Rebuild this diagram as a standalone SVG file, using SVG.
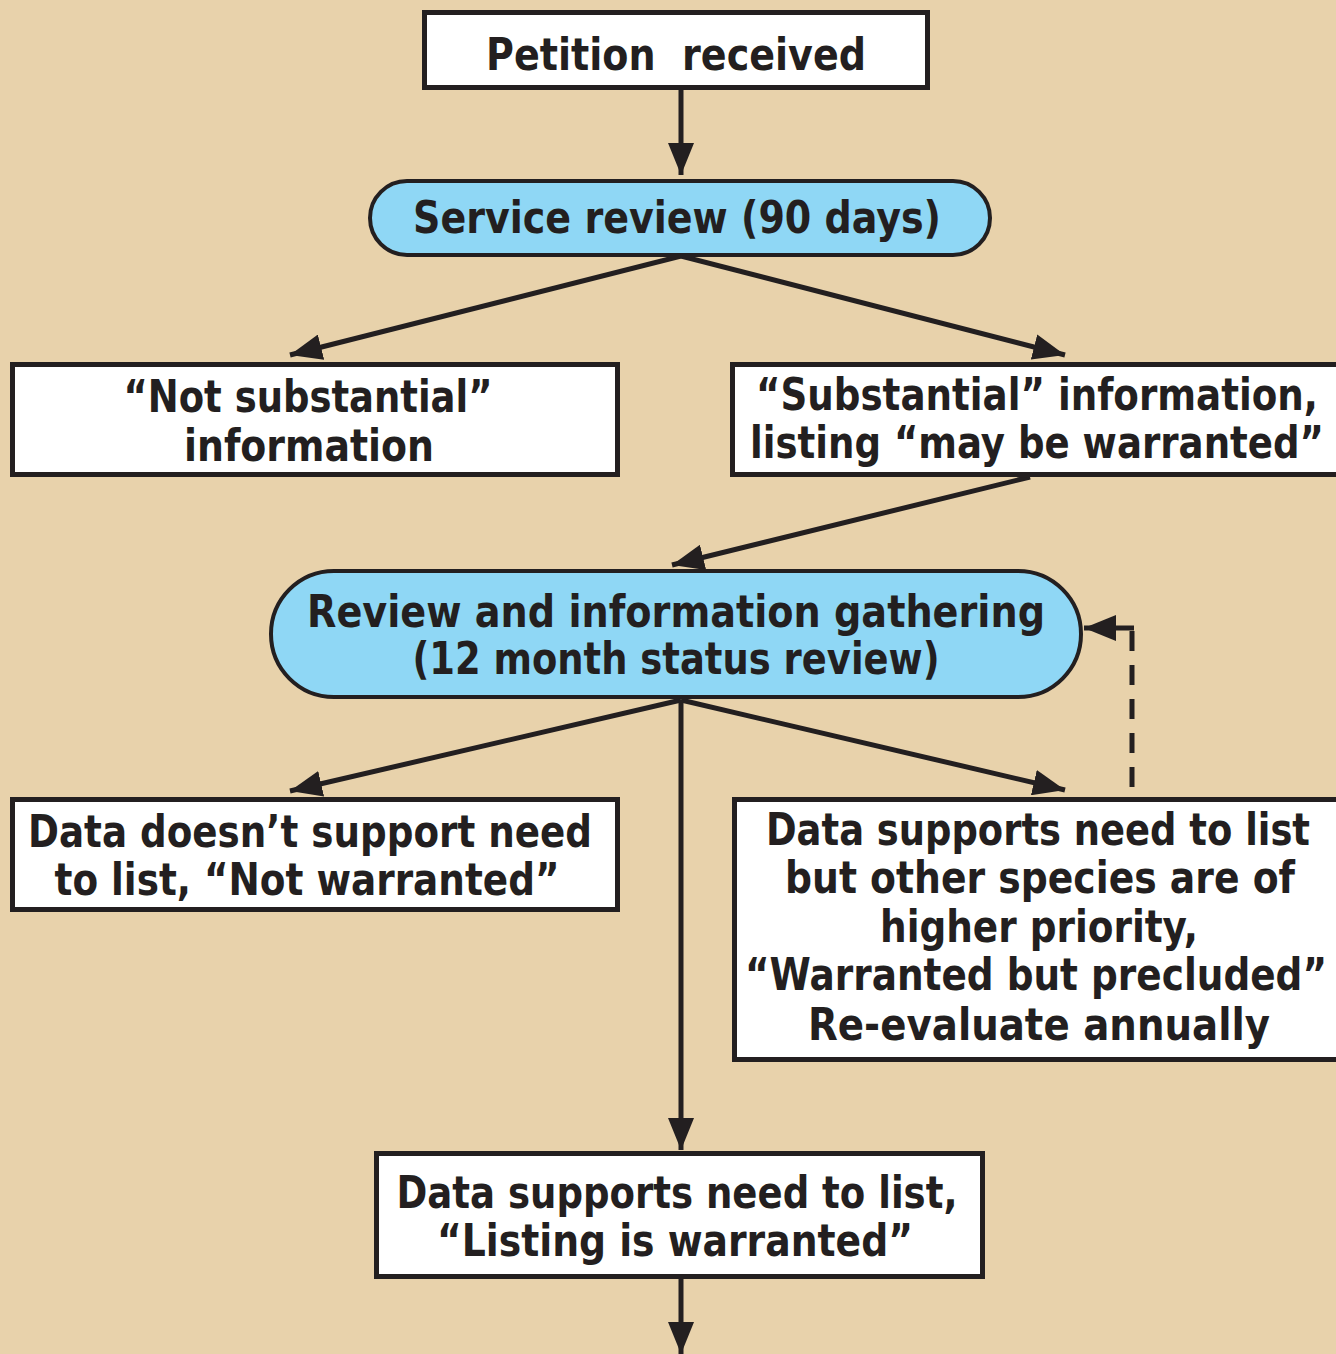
<svg xmlns="http://www.w3.org/2000/svg" width="1336" height="1354" viewBox="0 0 1336 1354">
<style>
.box{fill:#fff;stroke:#231f20;stroke-width:5}
.pill{fill:#8fd7f5;stroke:#231f20;stroke-width:4}
.t{font-family:"Liberation Sans Narrow","DejaVu Sans Condensed","Liberation Sans",sans-serif;font-weight:bold;font-size:44px;fill:#231f20;text-anchor:middle}
.c{stroke:#231f20;stroke-width:5;fill:none}
.d{stroke:#231f20;stroke-width:5;fill:none;stroke-dasharray:20 14}
</style>
<defs>
<marker id="ah" markerUnits="userSpaceOnUse" markerWidth="34" markerHeight="26" refX="32" refY="13" orient="auto">
<path d="M0,0 L32,13 L0,26 Z" fill="#231f20"/>
</marker>
</defs>
<rect width="1336" height="1354" fill="#e8d2ab"/>
<g id="connectors">
<line class="c" x1="681" y1="88" x2="681" y2="175" marker-end="url(#ah)"/>
<line class="c" x1="681" y1="256" x2="290" y2="355" marker-end="url(#ah)"/>
<line class="c" x1="681" y1="256" x2="1065" y2="355" marker-end="url(#ah)"/>
<line class="c" x1="1030" y1="477" x2="672" y2="565" marker-end="url(#ah)"/>
<line class="c" x1="681" y1="700" x2="290" y2="791" marker-end="url(#ah)"/>
<line class="c" x1="681" y1="700" x2="1065" y2="790" marker-end="url(#ah)"/>
<line class="c" x1="681" y1="700" x2="681" y2="1150" marker-end="url(#ah)"/>
<line class="c" x1="681" y1="1278" x2="681" y2="1354" marker-end="url(#ah)"/>
<path class="d" d="M1132,787 L1132,630"/>
<line class="c" x1="1134" y1="628" x2="1084" y2="628" marker-end="url(#ah)"/>
</g>
<g id="petition">
<rect class="box" x="424.5" y="12.5" width="503" height="75"/>
<text class="t" x="676" y="70" textLength="380" lengthAdjust="spacingAndGlyphs" xml:space="preserve">Petition  received</text>
</g>
<g id="service">
<rect class="pill" x="370" y="181" width="620" height="74" rx="37"/>
<text class="t" x="677" y="233" textLength="528" lengthAdjust="spacingAndGlyphs">Service review (90 days)</text>
</g>
<g id="notsub">
<rect class="box" x="12.5" y="364.5" width="605" height="110"/>
<text class="t" x="308" y="412" textLength="369" lengthAdjust="spacingAndGlyphs">“Not substantial”</text>
<text class="t" x="309" y="461" textLength="250" lengthAdjust="spacingAndGlyphs">information</text>
</g>
<g id="sub">
<rect class="box" x="732.5" y="364.5" width="610" height="110"/>
<text class="t" x="1037" y="410" textLength="562" lengthAdjust="spacingAndGlyphs">“Substantial” information,</text>
<text class="t" x="1037" y="458" textLength="574" lengthAdjust="spacingAndGlyphs">listing “may be warranted”</text>
</g>
<g id="review">
<rect class="pill" x="271" y="571" width="810" height="126" rx="63"/>
<text class="t" x="676" y="627" textLength="738" lengthAdjust="spacingAndGlyphs">Review and information gathering</text>
<text class="t" x="676" y="674" textLength="527" lengthAdjust="spacingAndGlyphs">(12 month status review)</text>
</g>
<g id="notwarranted">
<rect class="box" x="12.5" y="799.5" width="605" height="110"/>
<text class="t" x="310" y="847" textLength="564" lengthAdjust="spacingAndGlyphs">Data doesn’t support need</text>
<text class="t" x="307" y="895" textLength="505" lengthAdjust="spacingAndGlyphs">to list, “Not warranted”</text>
</g>
<g id="precluded">
<rect class="box" x="734.5" y="799.5" width="610" height="260"/>
<text class="t" x="1038" y="845" textLength="544" lengthAdjust="spacingAndGlyphs">Data supports need to list</text>
<text class="t" x="1040" y="893" textLength="510" lengthAdjust="spacingAndGlyphs">but other species are of</text>
<text class="t" x="1039" y="942" textLength="318" lengthAdjust="spacingAndGlyphs">higher priority,</text>
<text class="t" x="1036" y="990" textLength="582" lengthAdjust="spacingAndGlyphs">“Warranted but precluded”</text>
<text class="t" x="1039" y="1040" textLength="462" lengthAdjust="spacingAndGlyphs">Re-evaluate annually</text>
</g>
<g id="warranted">
<rect class="box" x="376.5" y="1153.5" width="606" height="123"/>
<text class="t" x="677" y="1208" textLength="561" lengthAdjust="spacingAndGlyphs">Data supports need to list,</text>
<text class="t" x="675" y="1256" textLength="476" lengthAdjust="spacingAndGlyphs">“Listing is warranted”</text>
</g>
</svg>
